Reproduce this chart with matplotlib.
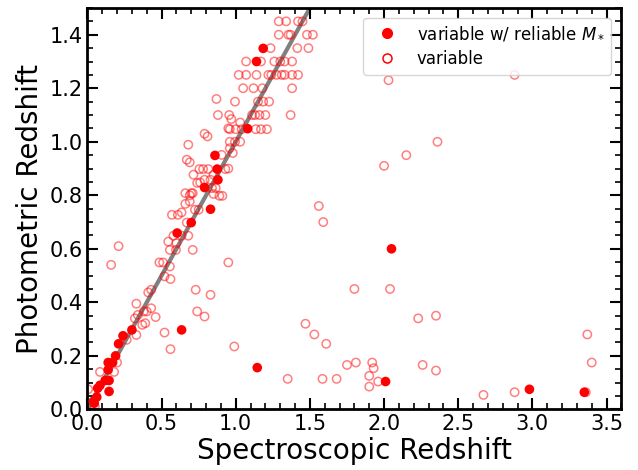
import matplotlib
matplotlib.use("Agg")
import matplotlib.pyplot as plt
from matplotlib.lines import Line2D
from matplotlib.ticker import MultipleLocator

# Filled points: variable w/ reliable M*
rel_zspec = [0.04, 0.046, 0.063, 0.069, 0.085, 0.12, 0.146, 0.146, 0.14, 0.14, 0.17, 0.19,
             0.21, 0.24, 0.30, 0.635, 0.605, 0.70, 0.83, 0.79, 0.88, 0.875, 0.86, 1.08,
             1.14, 1.185, 1.145, 2.05, 2.01, 2.98, 3.35]
rel_zphot = [0.03, 0.023, 0.046, 0.079, 0.09, 0.108, 0.108, 0.067, 0.148, 0.175, 0.175, 0.20,
             0.245, 0.275, 0.297, 0.297, 0.659, 0.698, 0.748, 0.829, 0.858, 0.898, 0.949, 1.049,
             1.30, 1.349, 0.156, 0.60, 0.104, 0.075, 0.064]

# Open points: variable
var_zspec = [1.29, 1.34, 1.42, 1.45,
             1.29, 1.355, 1.37, 1.48, 1.52,
             1.235, 1.415, 1.49,
             1.07, 1.17, 1.26, 1.30, 1.33, 1.38,
             1.02, 1.07, 1.14, 1.22, 1.24, 1.275, 1.31, 1.33, 1.38, 1.42,
             1.05, 1.12, 1.18, 1.38,
             0.995, 1.15, 1.185, 1.225, 0.87,
             0.88, 0.956, 0.97, 1.11, 1.13, 1.16, 1.20, 1.37,
             1.03,
             0.95, 0.96, 1.0, 1.04, 1.135, 1.17, 1.21,
             0.79, 0.81,
             0.96, 0.995, 1.03,
             0.68, 0.96, 0.98, 0.905,
             0.67, 0.69,
             0.755, 0.78, 0.815, 0.93, 0.95,
             0.715, 0.85,
             0.79, 0.74, 0.83, 0.76, 0.84, 0.865,
             0.66, 0.70, 0.71, 0.85, 0.89, 0.91, 0.69,
             0.66, 0.69, 0.725, 0.75, 0.635, 0.57, 0.61, 0.67,
             0.68, 0.635, 0.58, 0.545, 0.60, 0.556, 0.597, 0.71,
             0.485, 0.51, 0.556, 0.52, 0.56, 0.43, 0.73, 0.83, 0.95,
             0.74, 0.79,
             0.21, 0.16,
             0.41, 0.33, 0.34, 0.32, 0.38, 0.40, 0.43, 0.46, 0.37, 0.39, 0.33, 0.52, 0.56,
             0.265, 0.99,
             0.085, 0.18, 0.20, 0.005, 0.05,
             2.88, 2.03, 2.36, 2.15, 2.0, 1.56, 1.59, 1.80, 2.04, 2.23, 2.35, 1.47, 1.53,
             1.61, 3.37, 1.75, 1.81, 1.92, 1.93, 1.90, 1.90, 1.96, 1.585, 1.68, 2.26, 2.35,
             2.67, 2.88, 3.36, 3.40, 1.35]
var_zphot = [1.45, 1.45, 1.45, 1.45,
             1.40, 1.40, 1.40, 1.40, 1.40,
             1.35, 1.35, 1.35,
             1.30, 1.30, 1.30, 1.30, 1.30, 1.30,
             1.25, 1.25, 1.25, 1.25, 1.25, 1.25, 1.25, 1.25, 1.25, 1.25,
             1.20, 1.20, 1.20, 1.20,
             1.15, 1.15, 1.15, 1.15, 1.16,
             1.10, 1.10, 1.085, 1.10, 1.10, 1.10, 1.10, 1.10,
             1.072,
             1.05, 1.047, 1.047, 1.047, 1.047, 1.047, 1.047,
             1.03, 1.02,
             1.0, 1.0, 1.0,
             0.989, 0.976, 0.958, 0.951,
             0.933, 0.923,
             0.898, 0.898, 0.898, 0.898, 0.90,
             0.877, 0.877,
             0.858, 0.846, 0.858, 0.848, 0.827, 0.827,
             0.808, 0.808, 0.808, 0.805, 0.798, 0.798, 0.80,
             0.768, 0.777, 0.746, 0.746, 0.736, 0.727, 0.727, 0.698,
             0.649, 0.649, 0.649, 0.627, 0.621, 0.596, 0.596, 0.596,
             0.549, 0.549, 0.534, 0.497, 0.487, 0.447, 0.447, 0.428, 0.549,
             0.366, 0.347,
             0.61, 0.54,
             0.437, 0.395, 0.353, 0.34, 0.366, 0.366, 0.378, 0.345, 0.316, 0.322, 0.278, 0.287, 0.225,
             0.26, 0.235,
             0.14, 0.14, 0.175, 0.075, 0.01,
             1.25, 1.23, 1.0, 0.95, 0.91, 0.76, 0.70, 0.45, 0.45, 0.34, 0.35, 0.32, 0.28,
             0.245, 0.28, 0.166, 0.175, 0.175, 0.154, 0.125, 0.085, 0.104, 0.114, 0.114, 0.166, 0.145,
             0.054, 0.064, 0.064, 0.175, 0.114]

one_to_one = [0.0, 1.6]

plt.rcParams['font.family'] = ['DejaVu Sans']
fig = plt.figure(figsize=(6.38, 4.70), dpi=100)
ax = fig.add_axes([0.137, 0.129, 0.837, 0.854])

ax.plot(one_to_one, one_to_one, color='#808080', lw=3, zorder=1)
ax.scatter(var_zspec, var_zphot, s=36, facecolors='none', edgecolors='red',
           linewidths=1.1, alpha=0.5, zorder=2)
ax.scatter(rel_zspec, rel_zphot, s=48, color='red', edgecolors='none', zorder=3)

ax.set_xlim(0, 3.6)
ax.set_ylim(0, 1.5)
ax.xaxis.set_major_locator(MultipleLocator(0.5))
ax.xaxis.set_minor_locator(MultipleLocator(0.1))
ax.yaxis.set_major_locator(MultipleLocator(0.2))
ax.yaxis.set_minor_locator(MultipleLocator(0.05))
ax.tick_params(which='both', direction='in', top=True, right=True, labelsize=15)
ax.tick_params(which='major', length=8, width=1.5)
ax.tick_params(which='minor', length=4, width=1.2)
for sp in ax.spines.values():
    sp.set_linewidth(2)

ax.set_xlabel('Spectroscopic Redshift', fontsize=20, labelpad=2)
ax.set_ylabel('Photometric Redshift', fontsize=20, labelpad=4)

handles = [
    Line2D([], [], marker='o', ls='none', color='red', markersize=7),
    Line2D([], [], marker='o', ls='none', markerfacecolor='none', markeredgecolor='red',
           markeredgewidth=1.1, markersize=6.5),
]
ax.legend(handles, ['variable w/ reliable $M_*$', 'variable'], loc='upper right',
          fontsize=12, handlelength=2.0, handletextpad=0.8, borderpad=0.4,
          labelspacing=0.45, borderaxespad=0.6, fancybox=True)

fig.savefig('out.png', dpi=100)
